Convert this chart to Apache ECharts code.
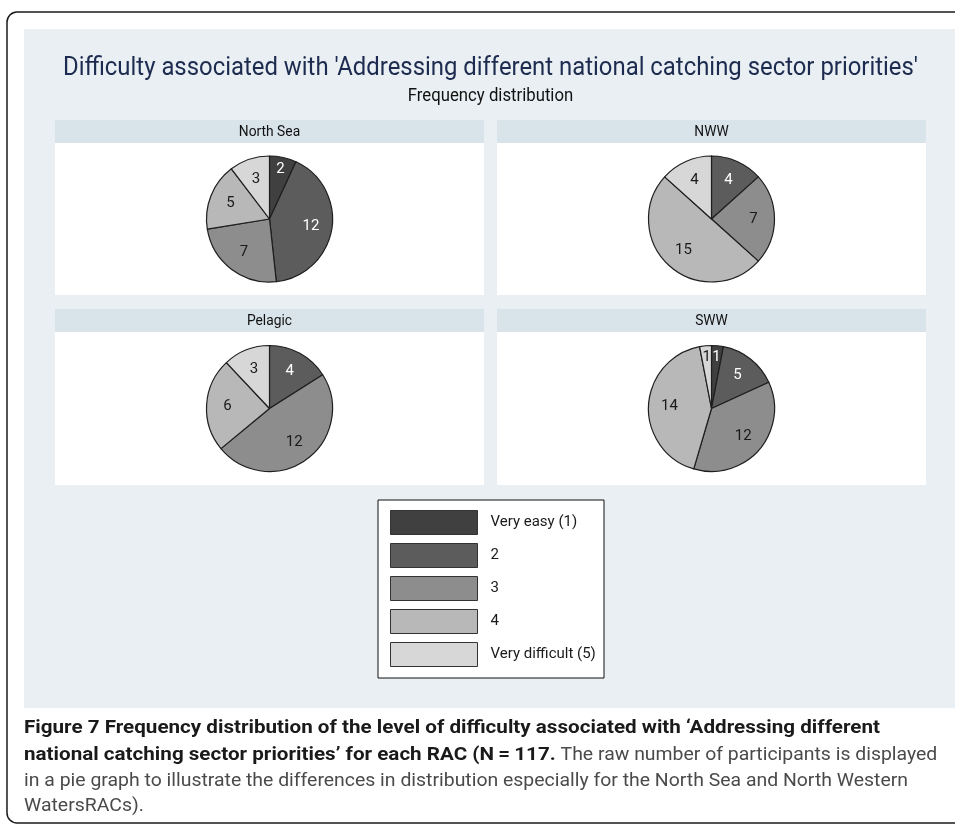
<!DOCTYPE html>
<html>
<head>
<meta charset="utf-8">
<script src="https://cdn.jsdelivr.net/npm/echarts@6/dist/echarts.min.js"></script>
<style>
html,body{margin:0;padding:0;background:#fff;}
#chart{width:955px;height:832px;}
</style>
</head>
<body>
<div id="chart"></div>
<script>
// ---- data ----
const levels = ['Very easy (1)', '2', '3', '4', 'Very difficult (5)'];
const regions = ['North Sea', 'NWW', 'Pelagic', 'SWW'];
const northSea = [2, 12, 7, 5, 3];
const nww = [0, 4, 7, 15, 4];
const pelagic = [0, 4, 12, 6, 3];
const sww = [1, 5, 12, 14, 1];
const titleText = "Difficulty associated with 'Addressing different national catching sector priorities'";
const subtitleText = 'Frequency distribution';
const captionBold1 = 'Figure 7 Frequency distribution of the level of difficulty associated with \u2018Addressing different';
const captionBold2 = 'national catching sector priorities\u2019 for each RAC (N\u2009=\u2009117.';
const captionNorm2 = ' The raw number of participants is displayed';
const captionNorm3 = 'in a pie graph to illustrate the differences in distribution especially for the North Sea and North Western';
const captionNorm4 = 'WatersRACs).';

// ---- styles ----
const sliceColors = ['#404040', '#5c5c5c', '#8d8d8d', '#b8b8b8', '#d7d7d7'];
const labelColors = ['#ffffff', '#ffffff', '#1a1a1a', '#1a1a1a', '#1a1a1a'];
const FONT = 'Roboto, "Liberation Sans", sans-serif';

const values = [northSea, nww, pelagic, sww];
const panelX = [55, 497];
const panelW = 429;
const headerY = [120, 309];
const headerH = 23;
const plotH = [152, 153];
const R = 63;
const SMALL_PCT = 8; // small slices get their label placed further out

const cv = document.createElement('canvas').getContext('2d');
function measure(text, font) { cv.font = font; return cv.measureText(text).width; }

const chart = echarts.init(document.getElementById('chart'), null, {renderer: 'canvas'});

const graphic = [];
graphic.push({type: 'rect', z: -10, shape: {x: 7, y: 12, width: 1000, height: 811, r: 10},
  style: {fill: '#ffffff', stroke: '#1a1a1a', lineWidth: 1.5}});
graphic.push({type: 'rect', z: -9, shape: {x: 24, y: 29, width: 940, height: 679},
  style: {fill: '#e9eff2'}});

function labelPie(name, c, outer, keep) {
  return {
    type: 'pie', name: name, center: c, radius: [0, outer], startAngle: 90, clockwise: true,
    avoidLabelOverlap: false, silent: true, animation: false, z: 5,
    itemStyle: {color: 'rgba(0,0,0,0)', borderWidth: 0},
    labelLine: {show: false},
    emphasis: {disabled: true},
    label: {show: true, position: 'inside', fontSize: 15, fontFamily: FONT,
      formatter: p => (p.value && keep(p.percent) ? String(p.value) : '')},
    data: null
  };
}

const series = [];
const labelSeries = [];
regions.forEach((name, i) => {
  const col = i % 2, row = Math.floor(i / 2);
  const x = panelX[col], hy = headerY[row];
  graphic.push({type: 'rect', z: -8, shape: {x: x, y: hy, width: panelW, height: headerH}, style: {fill: '#d8e3ea'}});
  graphic.push({type: 'rect', z: -8, shape: {x: x, y: hy + headerH, width: panelW, height: plotH[row]}, style: {fill: '#ffffff'}});
  graphic.push({type: 'text', z: -7, x: x + panelW / 2, y: hy + headerH / 2 + 1, scaleX: 0.92,
    style: {text: name, font: '15px ' + FONT, fill: '#111', align: 'center', verticalAlign: 'middle'}});
  const c = [x + panelW / 2, hy + headerH + plotH[row] / 2];
  const data = levels.map((lv, k) => ({name: lv, value: values[i][k]}));
  series.push({
    type: 'pie', name: name, center: c, radius: [0, R], startAngle: 90, clockwise: true,
    avoidLabelOverlap: false, silent: true, animation: false,
    label: {show: false}, labelLine: {show: false},
    itemStyle: {borderColor: '#1e1e1e', borderWidth: 1.2},
    emphasis: {disabled: true},
    data: data
  });
  const ldata = levels.map((lv, k) => ({name: lv, value: values[i][k], label: {color: labelColors[k]}}));
  const main = labelPie(name + ' labels', c, 78, pct => pct >= SMALL_PCT);
  main.data = ldata;
  const small = labelPie(name + ' small labels', c, 96, pct => pct < SMALL_PCT);
  small.data = ldata;
  labelSeries.push(main, small);
});

// title & subtitle
const titleFont = '26px ' + FONT;
graphic.push({type: 'text', z: -7, x: 490.5, y: 68, scaleX: 855 / measure(titleText, titleFont),
  style: {text: titleText, font: titleFont, fill: '#1c2b4f', align: 'center', verticalAlign: 'middle'}});
graphic.push({type: 'text', z: -7, x: 490.5, y: 96, scaleX: 0.93,
  style: {text: subtitleText, font: '18px ' + FONT, fill: '#111', align: 'center', verticalAlign: 'middle'}});

// legend box
graphic.push({type: 'rect', z: -7, shape: {x: 378, y: 500, width: 226, height: 178},
  style: {fill: '#ffffff', stroke: '#111', lineWidth: 1}});

// caption
const bFont = 'bold 19px ' + FONT;
const nFont = '19px ' + FONT;
const bScale = 856 / measure(captionBold1, bFont);
const nScale = 884 / measure(captionNorm3, nFont);
const capX = 24;
const capY = [728, 755, 781, 806];
graphic.push({type: 'text', z: -7, x: capX, y: capY[0], scaleX: bScale,
  style: {text: captionBold1, font: bFont, fill: '#1a1a1a', verticalAlign: 'middle'}});
graphic.push({type: 'text', z: -7, x: capX, y: capY[1], scaleX: bScale,
  style: {text: captionBold2, font: bFont, fill: '#1a1a1a', verticalAlign: 'middle'}});
graphic.push({type: 'text', z: -7, x: capX + measure(captionBold2, bFont) * bScale, y: capY[1], scaleX: nScale,
  style: {text: captionNorm2, font: nFont, fill: '#4a4a4a', verticalAlign: 'middle'}});
graphic.push({type: 'text', z: -7, x: capX, y: capY[2], scaleX: nScale,
  style: {text: captionNorm3, font: nFont, fill: '#4a4a4a', verticalAlign: 'middle'}});
graphic.push({type: 'text', z: -7, x: capX, y: capY[3], scaleX: nScale,
  style: {text: captionNorm4, font: nFont, fill: '#4a4a4a', verticalAlign: 'middle'}});

chart.setOption({
  animation: false,
  color: sliceColors,
  graphic: graphic,
  legend: {
    data: levels, orient: 'vertical', left: 390, top: 510, padding: 0,
    itemWidth: 87, itemHeight: 24, itemGap: 8, icon: 'rect',
    selectedMode: false,
    itemStyle: {borderColor: '#333', borderWidth: 1},
    textStyle: {fontSize: 15, fontFamily: FONT, color: '#1a1a1a', padding: [0, 0, 0, 8]}
  },
  series: series.concat(labelSeries)
});
</script>
</body>
</html>
